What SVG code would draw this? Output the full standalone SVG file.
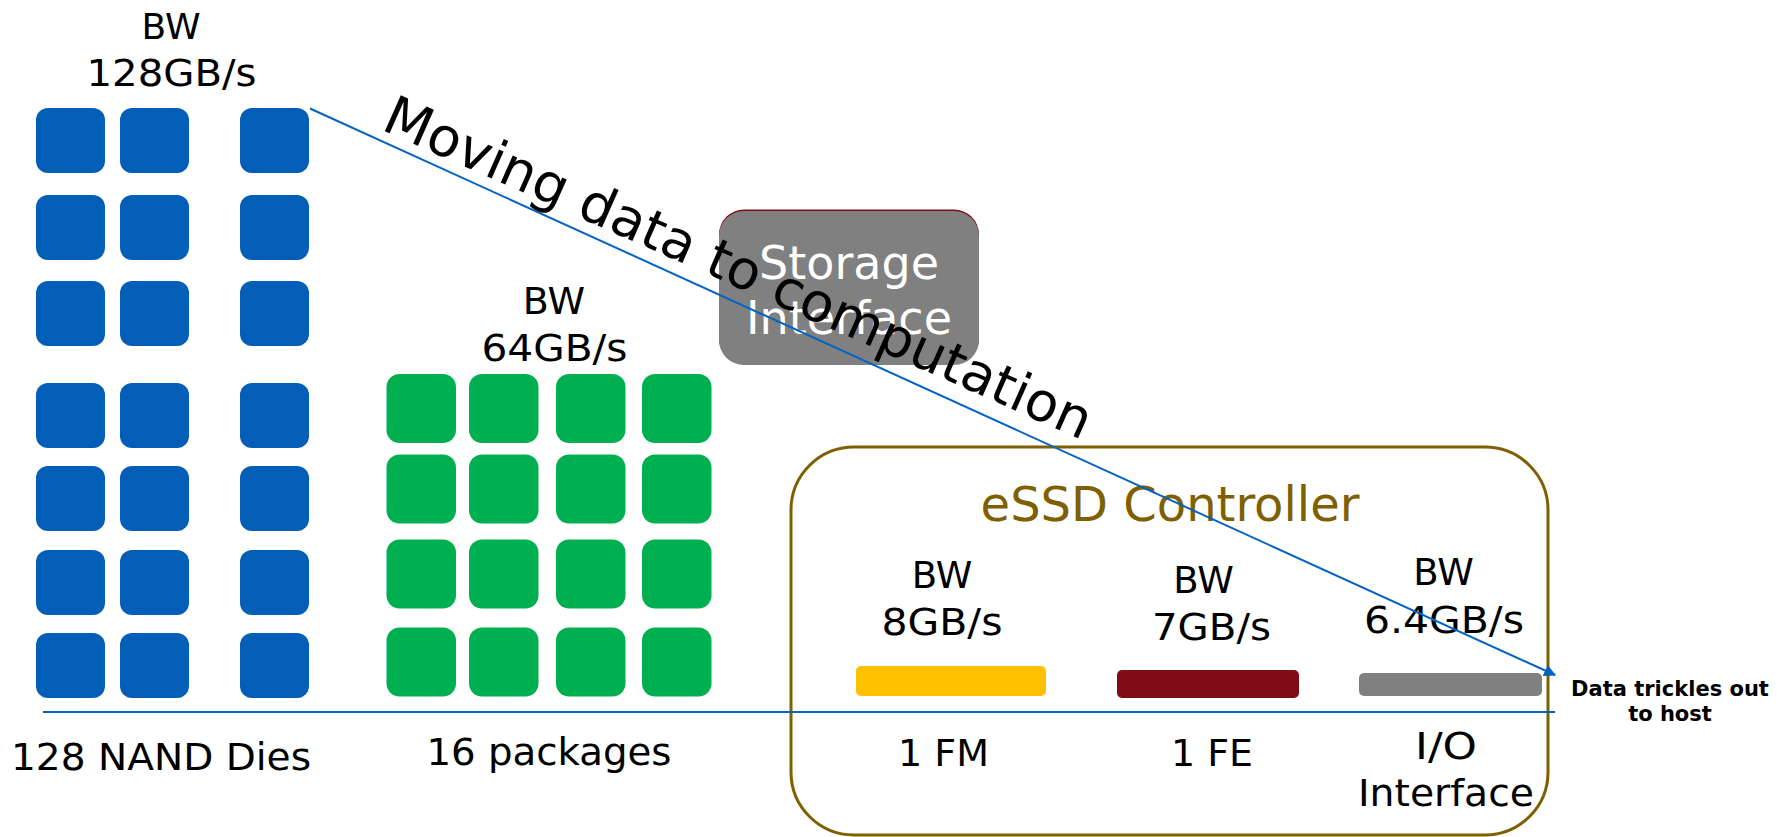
<svg xmlns="http://www.w3.org/2000/svg" width="1792" height="837" viewBox="0 0 1792 837">
  <style>
    text { font-family: "DejaVu Sans", Verdana, sans-serif; fill: #000; }
    .lbl { font-size: 38px; text-anchor: middle; }
    .die { fill: #035EB8; }
    .pkg { fill: #00B050; }
    .ctrl-title { font-size: 48px; fill: #7F6000; text-anchor: middle; }
    .si-text { font-size: 46px; fill: #FFFFFF; text-anchor: middle; }
    .wire { stroke: #0563C1; stroke-width: 2; fill: none; }
    .note { font-size: 21px; font-weight: bold; text-anchor: middle; }
  </style>
  <defs>
    <marker id="arrow" viewBox="0 0 10 10" refX="9" refY="5" markerWidth="6" markerHeight="6" orient="auto" markerUnits="strokeWidth">
      <path d="M0,0 L10,5 L0,10 z" fill="#0563C1"/>
    </marker>
    <rect id="dieCell" width="69" height="65" rx="12"/>
    <rect id="pkgCell" width="69.5" height="69" rx="13"/>
  </defs>
  <rect width="1792" height="837" fill="#FFFFFF"/>

  <!-- NAND dies: 7 rows x 3 columns -->
  <g id="nand-dies" class="die">
    <use href="#dieCell" x="36" y="108"/><use href="#dieCell" x="120" y="108"/><use href="#dieCell" x="240" y="108"/>
    <use href="#dieCell" x="36" y="195"/><use href="#dieCell" x="120" y="195"/><use href="#dieCell" x="240" y="195"/>
    <use href="#dieCell" x="36" y="281"/><use href="#dieCell" x="120" y="281"/><use href="#dieCell" x="240" y="281"/>
    <use href="#dieCell" x="36" y="383"/><use href="#dieCell" x="120" y="383"/><use href="#dieCell" x="240" y="383"/>
    <use href="#dieCell" x="36" y="466"/><use href="#dieCell" x="120" y="466"/><use href="#dieCell" x="240" y="466"/>
    <use href="#dieCell" x="36" y="550"/><use href="#dieCell" x="120" y="550"/><use href="#dieCell" x="240" y="550"/>
    <use href="#dieCell" x="36" y="633"/><use href="#dieCell" x="120" y="633"/><use href="#dieCell" x="240" y="633"/>
  </g>
  <g id="nand-labels">
    <text class="lbl" x="171" y="39" style="font-size:36px">BW</text>
    <text class="lbl" x="171.5" y="86" textLength="170" lengthAdjust="spacingAndGlyphs">128GB/s</text>
    <text class="lbl" x="161" y="770" style="font-size:37px" textLength="300" lengthAdjust="spacingAndGlyphs">128 NAND Dies</text>
  </g>

  <!-- Packages: 4 x 4 -->
  <g id="packages" class="pkg">
    <use href="#pkgCell" x="386.5" y="374"/><use href="#pkgCell" x="469" y="374"/><use href="#pkgCell" x="556" y="374"/><use href="#pkgCell" x="642" y="374"/>
    <use href="#pkgCell" x="386.5" y="454.5"/><use href="#pkgCell" x="469" y="454.5"/><use href="#pkgCell" x="556" y="454.5"/><use href="#pkgCell" x="642" y="454.5"/>
    <use href="#pkgCell" x="386.5" y="539.5"/><use href="#pkgCell" x="469" y="539.5"/><use href="#pkgCell" x="556" y="539.5"/><use href="#pkgCell" x="642" y="539.5"/>
    <use href="#pkgCell" x="386.5" y="627.5"/><use href="#pkgCell" x="469" y="627.5"/><use href="#pkgCell" x="556" y="627.5"/><use href="#pkgCell" x="642" y="627.5"/>
  </g>
  <g id="package-labels">
    <text class="lbl" x="554" y="314">BW</text>
    <text class="lbl" x="554.5" y="360.5" textLength="146" lengthAdjust="spacingAndGlyphs">64GB/s</text>
    <text class="lbl" x="549" y="765" style="font-size:37px" textLength="245" lengthAdjust="spacingAndGlyphs">16 packages</text>
  </g>

  <!-- Storage interface block -->
  <g id="storage-interface">
    <rect x="719" y="209.5" width="260" height="154" rx="25" fill="#7F0C16"/>
    <rect x="719" y="211" width="260" height="154" rx="25" fill="#808080"/>
    <text class="si-text" x="849" y="279">Storage</text>
    <text class="si-text" x="849" y="334">Interface</text>
  </g>

  <!-- Controller -->
  <g id="essd-controller">
    <rect x="791" y="447" width="757" height="388" rx="63" fill="none" stroke="#7F6000" stroke-width="3"/>
    <text class="ctrl-title" x="1170" y="521">eSSD Controller</text>
  </g>
  <g id="flash-manager">
    <text class="lbl" x="942" y="588" style="font-size:37px">BW</text>
    <text class="lbl" x="942" y="635" textLength="121" lengthAdjust="spacingAndGlyphs">8GB/s</text>
    <rect x="856" y="666" width="190" height="30" rx="5" fill="#FFC000"/>
    <text class="lbl" x="943.5" y="766">1 FM</text>
  </g>
  <g id="front-end">
    <text class="lbl" x="1203.5" y="592.5" style="font-size:37px">BW</text>
    <text class="lbl" x="1211.5" y="639.5" textLength="119" lengthAdjust="spacingAndGlyphs">7GB/s</text>
    <rect x="1117" y="670" width="182" height="28" rx="5" fill="#7F0C16"/>
    <text class="lbl" x="1212" y="766">1 FE</text>
  </g>
  <g id="io-interface">
    <text class="lbl" x="1443.5" y="585" style="font-size:37px">BW</text>
    <text class="lbl" x="1444" y="632.5" textLength="160" lengthAdjust="spacingAndGlyphs">6.4GB/s</text>
    <rect x="1359" y="673" width="183" height="23" rx="5" fill="#808080"/>
    <text class="lbl" x="1446" y="758.5" textLength="62" lengthAdjust="spacingAndGlyphs">I/O</text>
    <text class="lbl" x="1446" y="806" textLength="176" lengthAdjust="spacingAndGlyphs">Interface</text>
  </g>

  <!-- Host note -->
  <g id="host-note">
    <text class="note" x="1670" y="696">Data trickles out</text>
    <text class="note" x="1670" y="721">to host</text>
  </g>

  <!-- Connectors: baseline axis and the data-flow arrow -->
  <g id="connectors">
    <line class="wire" x1="43" y1="712" x2="1555" y2="712" stroke-width="2.5"/>
    <line class="wire" x1="310" y1="108.5" x2="1555" y2="675" marker-end="url(#arrow)"/>
    <text x="380" y="129" transform="rotate(23.9 380 129)" style="font-size:54px" textLength="768" lengthAdjust="spacingAndGlyphs">Moving data to computation</text>
  </g>
</svg>
